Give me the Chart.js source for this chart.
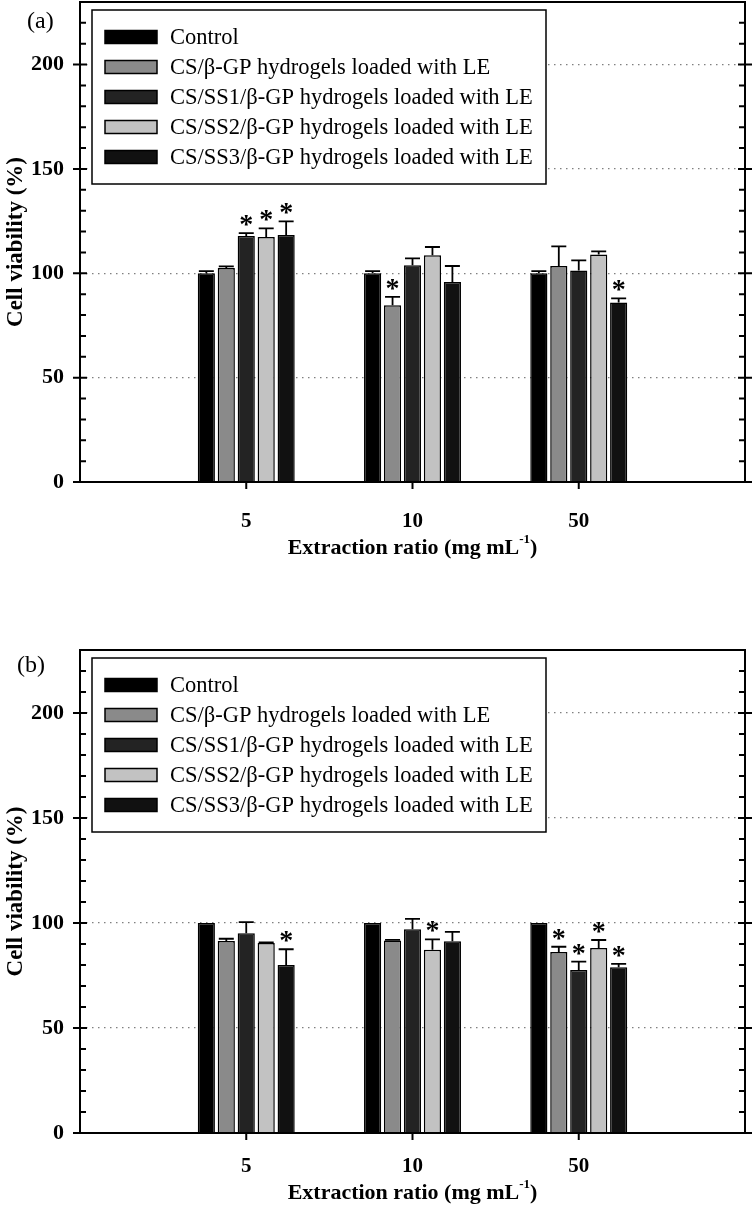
<!DOCTYPE html>
<html>
<head>
<meta charset="utf-8">
<script src="https://cdn.jsdelivr.net/npm/chart.js@4.4.1/dist/chart.umd.min.js"></script>
<style>
  body { margin: 0; background: #fff; }
  canvas { display: block; }
</style>
</head>
<body>
<canvas id="chartA" width="756" height="620"></canvas>
<canvas id="chartB" width="756" height="588"></canvas>
<script>
const categories = ["5", "10", "50"];
const seriesNames = [
  "Control",
  "CS/\u03b2-GP hydrogels loaded with LE",
  "CS/SS1/\u03b2-GP hydrogels loaded with LE",
  "CS/SS2/\u03b2-GP hydrogels loaded with LE",
  "CS/SS3/\u03b2-GP hydrogels loaded with LE"
];
const seriesColors = ["#000000", "#8a8a8a", "#232323", "#c2c2c2", "#111111"];
const yTicks = [0, 50, 100, 150, 200];

// panel (a)
const controlA = [100, 100, 100];
const controlErrA = [1, 1, 1];
const gpA = [102.5, 84.7, 103.5];
const gpErrA = [0.8, 4, 9.4];
const ss1A = [117.9, 103.8, 101.4];
const ss1ErrA = [1.4, 3.4, 4.8];
const ss2A = [117.4, 108.6, 109];
const ss2ErrA = [4.1, 4, 1.5];
const ss3A = [118.3, 95.8, 86];
const ss3ErrA = [6.6, 7.7, 2];
const starsA = [[0, 0, 0], [0, 1, 0], [1, 0, 0], [1, 0, 0], [1, 0, 1]];

// panel (b)
const controlB = [100, 100, 100];
const controlErrB = [0, 0, 0];
const gpB = [91.4, 91.7, 86.2];
const gpErrB = [1.1, 0.3, 2.5];
const ss1B = [95.1, 97, 77.6];
const ss1ErrB = [5.3, 5, 4];
const ss2B = [90.5, 87.3, 88.1];
const ss2ErrB = [0.3, 4.9, 3.8];
const ss3B = [80, 91.3, 78.9];
const ss3ErrB = [7.5, 4.5, 1.6];
const starsB = [[0, 0, 0], [0, 0, 1], [0, 0, 1], [0, 1, 1], [1, 0, 1]];

const FONT = "'Liberation Serif', 'Times New Roman', serif";

const panelA = {
  values: [controlA, gpA, ss1A, ss2A, ss3A],
  errors: [controlErrA, gpErrA, ss1ErrA, ss2ErrA, ss3ErrA],
  stars: starsA,
  label: "(a)", labelX: 27, labelY: 22,
  top: 2, bottomPad: 58, xHeight: 80, tickPad: 27, titleOffset: 66
};
const panelB = {
  values: [controlB, gpB, ss1B, ss2B, ss3B],
  errors: [controlErrB, gpErrB, ss1ErrB, ss2ErrB, ss3ErrB],
  stars: starsB,
  label: "(b)", labelX: 17, labelY: 46,
  top: 30, bottomPad: 0, xHeight: 75, tickPad: 21, titleOffset: 60
};

const framePlugin = {
  id: "frame",
  afterDatasetsDraw(chart, args, opts) {
    const ctx = chart.ctx;
    const area = chart.chartArea;
    const ys = chart.scales.y;
    const xs = chart.scales.x;
    const panel = opts.panel;
    ctx.save();

    // error bars and significance marks
    chart.data.datasets.forEach((ds, i) => {
      const meta = chart.getDatasetMeta(i);
      meta.data.forEach((bar, j) => {
        const k = j - 1;
        if (k < 0 || k >= categories.length) return;
        const err = ds.errors[k];
        const top = ys.getPixelForValue(ds.data[j] + err);
        if (err > 0) {
          ctx.strokeStyle = "#000";
          ctx.lineWidth = 1.8;
          ctx.beginPath();
          ctx.moveTo(bar.x, bar.y);
          ctx.lineTo(bar.x, top);
          ctx.moveTo(bar.x - 7.5, top);
          ctx.lineTo(bar.x + 7.5, top);
          ctx.stroke();
        }
        if (ds.stars[k]) {
          ctx.fillStyle = "#000";
          ctx.font = "bold 28px " + FONT;
          ctx.textAlign = "center";
          ctx.textBaseline = "alphabetic";
          ctx.fillText("*", bar.x, top);
        }
      });
    });

    // legend
    const lx = 92, ly = area.top + 8, lw = 454, lh = 174;
    ctx.fillStyle = "#fff";
    ctx.fillRect(lx, ly, lw, lh);
    ctx.strokeStyle = "#000";
    ctx.lineWidth = 1.5;
    ctx.strokeRect(lx, ly, lw, lh);
    ctx.font = "22.5px " + FONT;
    ctx.textAlign = "left";
    ctx.textBaseline = "middle";
    seriesNames.forEach((name, r) => {
      const ry = ly + 27 + r * 30;
      ctx.fillStyle = seriesColors[r];
      ctx.fillRect(105, ry - 6.5, 52, 13);
      ctx.strokeStyle = "#000";
      ctx.lineWidth = 1.5;
      ctx.strokeRect(105, ry - 6.5, 52, 13);
      ctx.fillStyle = "#000";
      ctx.fillText(name, 170, ry + 1);
    });

    // frame
    ctx.strokeStyle = "#000";
    ctx.lineWidth = 2;
    ctx.strokeRect(area.left, area.top, area.right - area.left, area.bottom - area.top);

    // y ticks on both sides
    for (let v = 0; v <= 220; v += 10) {
      const py = ys.getPixelForValue(v);
      ctx.beginPath();
      if (v % 50 === 0) {
        ctx.moveTo(area.left - 7, py); ctx.lineTo(area.left + 7, py);
        ctx.moveTo(area.right - 7, py); ctx.lineTo(area.right + 7, py);
      } else {
        ctx.moveTo(area.left, py); ctx.lineTo(area.left + 6, py);
        ctx.moveTo(area.right, py); ctx.lineTo(area.right - 6, py);
      }
      ctx.stroke();
    }

    // x ticks
    categories.forEach((c, k) => {
      const px = xs.getPixelForValue(k + 1);
      ctx.beginPath();
      ctx.moveTo(px, area.bottom);
      ctx.lineTo(px, area.bottom + 7);
      ctx.stroke();
    });

    // x title with superscript
    ctx.fillStyle = "#000";
    ctx.textBaseline = "middle";
    ctx.textAlign = "left";
    const mainFont = "bold 22px " + FONT;
    const supFont = "bold 13px " + FONT;
    const t1 = "Extraction ratio (mg mL", t2 = "-1", t3 = ")";
    ctx.font = mainFont;
    const w1 = ctx.measureText(t1).width, w3 = ctx.measureText(t3).width;
    ctx.font = supFont;
    const w2 = ctx.measureText(t2).width;
    const cx = (area.left + area.right) / 2;
    let tx = cx - (w1 + w2 + w3) / 2;
    const ty = area.bottom + panel.titleOffset;
    ctx.font = mainFont;
    ctx.fillText(t1, tx, ty);
    tx += w1;
    ctx.font = supFont;
    ctx.fillText(t2, tx, ty - 8);
    tx += w2;
    ctx.font = mainFont;
    ctx.fillText(t3, tx, ty);

    // panel label
    ctx.font = "24px " + FONT;
    ctx.fillText(panel.label, panel.labelX, panel.labelY);

    ctx.restore();
  }
};

function makeChart(canvasId, panel) {
  const datasets = panel.values.map((vals, i) => ({
    label: seriesNames[i],
    data: [null, ...vals, null],
    errors: panel.errors[i],
    stars: panel.stars[i],
    backgroundColor: seriesColors[i],
    borderColor: "#000",
    borderWidth: 1.5,
    categoryPercentage: 0.6,
    barPercentage: 0.86
  }));

  return new Chart(document.getElementById(canvasId), {
    type: "bar",
    data: { labels: ["", ...categories, ""], datasets: datasets },
    options: {
      responsive: false,
      animation: false,
      devicePixelRatio: 1,
      layout: { padding: { left: 0, right: 11, top: panel.top, bottom: panel.bottomPad } },
      plugins: {
        legend: { display: false },
        tooltip: { enabled: false },
        frame: { panel: panel }
      },
      scales: {
        x: {
          offset: false,
          grid: { display: false, drawTicks: false },
          border: { display: false },
          ticks: {
            color: "#000",
            font: { family: FONT, size: 21, weight: "bold" },
            padding: panel.tickPad,
            maxRotation: 0,
            autoSkip: false
          },
          afterFit: s => { s.height = panel.xHeight; s.paddingLeft = 0; s.paddingRight = 0; }
        },
        y: {
          min: 0,
          max: 230,
          afterBuildTicks: s => { s.ticks = yTicks.map(v => ({ value: v })); },
          ticks: {
            color: "#000",
            font: { family: FONT, size: 22, weight: "bold" },
            padding: 16
          },
          grid: {
            drawTicks: false,
            lineWidth: 1.2,
            color: c => (c.tick && c.tick.value > 0) ? "#808080" : "rgba(0,0,0,0)"
          },
          border: { display: false, dash: [1.5, 4.5] },
          title: {
            display: true,
            text: "Cell viability (%)",
            color: "#000",
            font: { family: FONT, size: 23, weight: "bold" },
            padding: { top: 2, bottom: 0 }
          },
          afterFit: s => { s.width = 80; s.paddingTop = 0; s.paddingBottom = 0; }
        }
      }
    },
    plugins: [framePlugin]
  });
}

makeChart("chartA", panelA);
makeChart("chartB", panelB);
</script>
</body>
</html>
